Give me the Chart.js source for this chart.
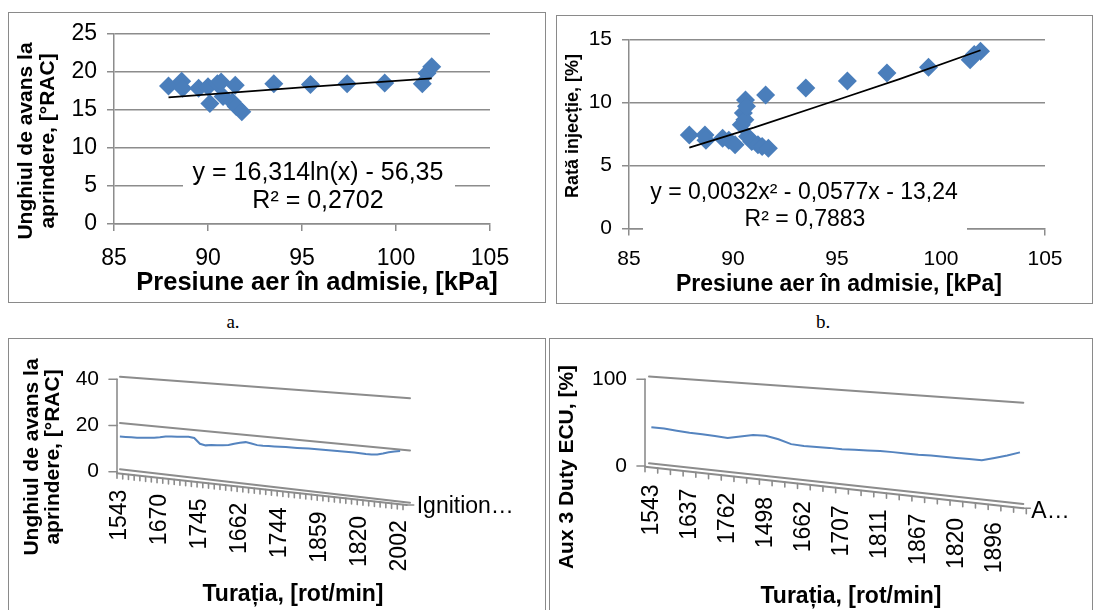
<!DOCTYPE html>
<html><head><meta charset="utf-8">
<script src="https://cdn.jsdelivr.net/npm/chart.js@4.4.1/dist/chart.umd.min.js"></script>
<style>
html,body{margin:0;padding:0;background:#fff;width:1096px;height:610px;overflow:hidden;position:relative}
.frame{position:absolute;border:1.5px solid #8a8a8a;box-sizing:border-box}
canvas{position:absolute;left:0;top:0}
.cap{position:absolute;font-family:"Liberation Serif","Times New Roman",serif;font-size:19px;transform:translate(-50%,-50%)}
</style></head>
<body>
<div class="frame" style="left:8px;top:12px;width:538px;height:291px"></div>
<div class="frame" style="left:556px;top:15px;width:537px;height:289px"></div>
<div class="frame" style="left:8px;top:338px;width:538px;height:290px"></div>
<div class="frame" style="left:549px;top:338px;width:544px;height:290px"></div>
<div class="cap" style="left:233px;top:322px">a.</div>
<div class="cap" style="left:823px;top:322px">b.</div>
<canvas id="cA" width="1096" height="610"></canvas>
<canvas id="cB" width="1096" height="610"></canvas>
<canvas id="cC" width="1096" height="610"></canvas>
<canvas id="cD" width="1096" height="610"></canvas>
<script>
// ---------- DATA ----------
// Panel a: ignition advance vs intake pressure
const pressureA = [87.9, 88.6, 88.65, 89.5, 90.0, 90.1, 90.5, 90.7, 90.8, 91.3, 91.45, 91.5, 91.8, 93.5, 95.45, 97.4, 99.4, 101.4, 101.65, 101.9];
const advanceA  = [18.1, 18.7, 17.8, 17.8, 18.0, 15.8, 18.4, 18.6, 16.7, 16.0, 18.2, 15.4, 14.7, 18.4, 18.3, 18.4, 18.5, 18.4, 19.75, 20.6];
const trendPressureA = [87.9, 95.0, 101.9];
const trendAdvanceA  = [16.6, 17.9, 19.1];
const eqA = ['y = 16,314ln(x) - 56,35', 'R² = 0,2702'];

// Panel b: injection rate vs intake pressure
const pressureB = [87.9, 88.65, 88.7, 89.5, 89.8, 90.1, 90.4, 90.5, 90.57, 90.6, 90.65, 90.7, 90.9, 91.2, 91.4, 91.57, 91.7, 93.5, 95.5, 97.4, 99.4, 101.4, 101.6, 101.9];
const rateB     = [7.43, 7.43, 7.0, 7.17, 7.0, 6.64, 8.23, 9.16, 8.63, 10.2, 9.7, 7.3, 6.9, 6.64, 6.5, 10.6, 6.37, 11.15, 11.7, 12.35, 12.8, 13.4, 13.8, 14.07];
const trendPressureB = [87.9, 91.0, 95.0, 98.0, 101.9];
const trendRateB     = [6.42, 8.0, 10.2, 11.85, 14.15];
const eqB = ['y = 0,0032x² - 0,0577x - 13,24', 'R² = 0,7883'];

// Panel c: ignition advance vs engine speed (3D line)
const rpmShownC = ['1543', '1670', '1745', '1662', '1744', '1859', '1820', '2002'];
const labelStepC = 7;
const ignitionC = [15.2, 15.05, 14.9, 14.75, 14.7, 14.7, 14.7, 14.9, 15.2, 15.25, 15.15, 15.1, 15.1, 14.6, 12.1, 11.4, 11.6, 11.5, 11.5, 11.6,
                   12.1, 12.55, 12.8, 12.2, 11.5, 11.2, 11.1, 10.95, 10.8, 10.65, 10.45, 10.3, 10.15, 10.0, 9.85, 9.65, 9.4, 9.15, 8.95, 8.75,
                   8.5, 8.3, 8.0, 7.7, 7.5, 7.5, 7.9, 8.4, 8.75, 9.0];

// Panel d: Aux 3 duty vs engine speed (3D line)
const rpmShownD = ['1543', '1637', '1762', '1498', '1662', '1707', '1811', '1867', '1820', '1896'];
const labelStepD = 3;
const dutyD = [44.8, 43.3, 40.7, 38.4, 36.7, 34.5, 32.3, 34.0, 35.7, 34.9, 30.8, 25.2, 23.0, 22.0, 20.9, 19.4, 18.7, 18.0, 17.2, 16.0,
               14.5, 13.1, 12.1, 10.8, 9.3, 8.0, 6.6, 9.3, 12.2, 15.7];

// ---------- STYLE ----------
const FAM = '"Liberation Sans", Arial, sans-serif';
const GRID = '#8c8c8c';
const BLUE = '#4a7ebb';
const W = 1096, H = 610;

function area(l, t, r, b) { return {l, t, r, b}; }
function fitY(a) { return s => { s.width = a.l; }; }
function fitX(a) { return s => { s.height = H - a.b; }; }

const extraText = {
  id: 'extraText',
  afterDraw(chart, args, opts) {
    const ctx = chart.ctx;
    for (const it of (opts.items || [])) {
      ctx.save();
      if (it.box) { ctx.fillStyle = '#fff'; ctx.fillRect(it.box[0], it.box[1], it.box[2] - it.box[0], it.box[3] - it.box[1]); }
      ctx.font = it.font; ctx.fillStyle = '#000';
      ctx.textAlign = it.align || 'center'; ctx.textBaseline = 'middle';
      ctx.translate(it.x, it.y);
      if (it.rot) ctx.rotate(it.rot);
      const lines = Array.isArray(it.text) ? it.text : [it.text];
      lines.forEach((t, k) => ctx.fillText(t, 0, k * (it.lh || 0)));
      ctx.restore();
    }
  }
};

// Excel-like 3D walls, floor, category ticks & labels, drawn from the chart's scales
const wall3d = {
  id: 'wall3d',
  beforeDatasetsDraw(chart, args, o) {
    const ctx = chart.ctx, xs = chart.scales.x, ys = chart.scales.y;
    const axX = chart.chartArea.left;
    const y0 = ys.getPixelForValue(ys.min);
    const drop = v => o.dropLow + (o.dropHigh - o.dropLow) * (v - ys.min) / (ys.max - ys.min);
    const frontY = px => y0 + o.frontDy0 + (px - axX) / (o.frontRightX - axX) * (o.frontDrop - o.frontDy0);
    ctx.save();
    ctx.strokeStyle = GRID; ctx.lineWidth = 2; ctx.lineCap = 'round';
    for (const v of o.gridValues) {
      const py = ys.getPixelForValue(v);
      ctx.beginPath(); ctx.moveTo(axX + o.backDx, py + o.backDy); ctx.lineTo(o.backRightX, py + drop(v)); ctx.stroke();
    }
    ctx.beginPath(); ctx.moveTo(axX, frontY(axX)); ctx.lineTo(o.frontRightX, frontY(o.frontRightX)); ctx.stroke();
    ctx.lineWidth = 1.6;
    ctx.beginPath(); ctx.moveTo(axX, ys.getPixelForValue(ys.max)); ctx.lineTo(axX, frontY(axX)); ctx.stroke();
    for (const t of ys.ticks) {
      const py = ys.getPixelForValue(t.value);
      ctx.beginPath(); ctx.moveTo(axX - 8, py); ctx.lineTo(axX, py); ctx.stroke();
    }
    const n = chart.data.labels.length;
    for (let i = 0; i <= n; i++) {
      const px = xs.getPixelForValue(i - 0.5);
      const fy = frontY(px);
      ctx.beginPath(); ctx.moveTo(px, fy); ctx.lineTo(px, fy + o.tickLen); ctx.stroke();
    }
    const fr = frontY(o.frontRightX);
    ctx.beginPath(); ctx.moveTo(o.frontRightX, fr); ctx.lineTo(o.frontRightX + 7, fr); ctx.stroke();
    ctx.fillStyle = '#000'; ctx.font = o.labelFont;
    ctx.textAlign = 'right'; ctx.textBaseline = 'middle';
    chart.data.labels.forEach((lab, i) => {
      if (!lab) return;
      const px = xs.getPixelForValue(i);
      ctx.save(); ctx.translate(px, frontY(px) + o.labelGap); ctx.rotate(-Math.PI / 2);
      ctx.fillText(lab, 0, 0); ctx.restore();
    });
    ctx.textAlign = 'left';
    ctx.fillText(o.seriesLabel, o.frontRightX + o.seriesDx, fr + o.seriesDy);
    ctx.restore();
  }
};

function scatterChart(id, xs, ys, txs, tys, a, yMax, tickFont, xPad, texts) {
  return new Chart(document.getElementById(id), {
    type: 'scatter',
    data: { datasets: [
      { type: 'line', data: txs.map((x, i) => ({x, y: tys[i]})), borderColor: '#000', borderWidth: 1.75,
        pointRadius: 0, fill: false, order: 0 },
      { data: xs.map((x, i) => ({x, y: ys[i]})), pointStyle: 'rectRot', pointRadius: 9.5,
        backgroundColor: BLUE, borderColor: BLUE, borderWidth: 0, order: 1 }
    ]},
    options: {
      responsive: false, animation: false, events: [],
      layout: { padding: {left: 0, top: a.t, right: W - a.r, bottom: 0} },
      plugins: { legend: {display: false}, tooltip: {enabled: false}, extraText: {items: texts} },
      scales: {
        x: { type: 'linear', min: 85, max: 105, afterFit: fitX(a),
             ticks: { stepSize: 5, color: '#000', font: {family: FAM, size: tickFont}, padding: xPad, maxRotation: 0, autoSkip: false },
             grid: { drawOnChartArea: false, color: GRID, lineWidth: 1.5, tickLength: 7 },
             border: { color: GRID, width: 1.5 } },
        y: { min: 0, max: yMax, afterFit: fitY(a),
             ticks: { stepSize: 5, color: '#000', font: {family: FAM, size: tickFont}, padding: 10 },
             grid: { color: GRID, lineWidth: 1.5, tickLength: 7 },
             border: { color: GRID, width: 1.5 } }
      }
    },
    plugins: [extraText]
  });
}

function lineChart3d(id, values, shown, step, a, yMax, yStep, color, wallOpts, texts) {
  const labels = values.map((_, i) => (i % step === 0 ? (shown[i / step] || '') : ''));
  return new Chart(document.getElementById(id), {
    type: 'line',
    data: { labels, datasets: [{ data: values, borderColor: color, borderWidth: 2, pointRadius: 0, fill: false, tension: 0 }] },
    options: {
      responsive: false, animation: false, events: [],
      layout: { padding: {left: 0, top: a.t, right: W - a.r, bottom: H - a.b} },
      plugins: { legend: {display: false}, tooltip: {enabled: false}, wall3d: wallOpts, extraText: {items: texts} },
      scales: {
        x: { display: false, offset: true },
        y: { min: 0, max: yMax, afterFit: fitY(a),
             ticks: { stepSize: yStep, color: '#000', font: {family: FAM, size: 21}, padding: 18 },
             grid: { display: false, drawTicks: false }, border: { display: false } }
      }
    },
    plugins: [wall3d, extraText]
  });
}

// ---------- CHARTS ----------
scatterChart('cA', pressureA, advanceA, trendPressureA, trendAdvanceA, area(114, 33.3, 490, 224), 25, 23, 14, [
  { text: eqA[0], x: 318, y: 173, font: '25px ' + FAM, box: [183, 158, 455, 214] },
  { text: eqA[1], x: 318, y: 201, font: '25px ' + FAM },
  { text: 'Presiune aer în admisie, [kPa]', x: 317, y: 283, font: 'bold 25.5px ' + FAM },
  { text: ['Unghiul de avans la', 'aprindere, [°RAC]'], x: 26, y: 141, lh: 22.3, rot: -Math.PI / 2, font: 'bold 21px ' + FAM }
]);

scatterChart('cB', pressureB, rateB, trendPressureB, trendRateB, area(629, 39.5, 1045, 228.5), 15, 21, 11, [
  { text: eqB[0], x: 804, y: 193, font: '23px ' + FAM, box: [643, 176, 967, 238] },
  { text: eqB[1], x: 805, y: 220, font: '23px ' + FAM },
  { text: 'Presiune aer în admisie, [kPa]', x: 839, y: 285, font: 'bold 23px ' + FAM },
  { text: 'Rată injecție, [%]', x: 573, y: 126, rot: -Math.PI / 2, font: 'bold 18px ' + FAM }
]);

lineChart3d('cC', ignitionC, rpmShownC, labelStepC, area(117, 379.3, 403, 471.7), 40, 20, '#5584bf', {
  gridValues: [0, 20, 40], backDx: 3, backDy: -2.5, backRightX: 410, dropLow: 31, dropHigh: 19,
  frontRightX: 406.7, frontDy0: 1.6, frontDrop: 33.3, tickLen: 5, labelGap: 16,
  labelFont: '23px ' + FAM, seriesLabel: 'Ignition…', seriesDx: 10, seriesDy: 2
}, [
  { text: 'Turația, [rot/min]', x: 293, y: 595, font: 'bold 23px ' + FAM },
  { text: ['Unghiul de avans la', 'aprindere, [°RAC]'], x: 32, y: 457, lh: 21.6, rot: -Math.PI / 2, font: 'bold 21px ' + FAM }
]);

lineChart3d('cD', dutyD, rpmShownD, labelStepD, area(645, 379.3, 1026.3, 466), 100, 100, '#5584bf', {
  gridValues: [0, 100], backDx: 4, backDy: -2.7, backRightX: 1023.3, dropLow: 38, dropHigh: 23.4,
  frontRightX: 1023.3, frontDy0: 0.7, frontDrop: 42.3, tickLen: 5, labelGap: 17,
  labelFont: '23px ' + FAM, seriesLabel: 'A…', seriesDx: 8, seriesDy: 3
}, [
  { text: 'Turația, [rot/min]', x: 851, y: 597, font: 'bold 23px ' + FAM },
  { text: 'Aux 3 Duty ECU, [%]', x: 567, y: 467, rot: -Math.PI / 2, font: 'bold 21px ' + FAM }
]);
</script>
</body></html>
